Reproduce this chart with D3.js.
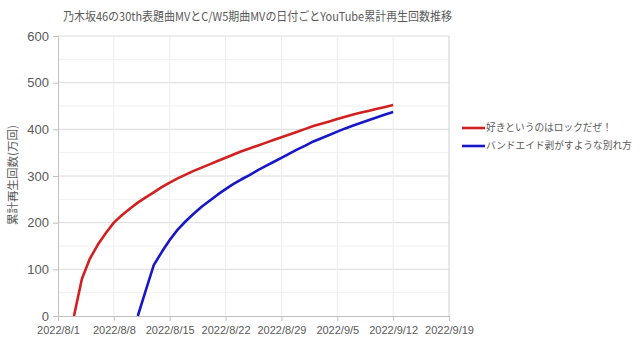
<!DOCTYPE html>
<html>
<head>
<meta charset="utf-8">
<script src="https://cdn.jsdelivr.net/npm/d3@7"></script>
<style>
  body { margin: 0; background: #fff; }
  svg { display: block; font-family: "Noto Sans CJK JP", "Noto Sans", sans-serif; }
</style>
</head>
<body>
<div id="my_dataviz"></div>
<script>
// data (万回)
var seriesNames = ["好きというのはロックだぜ！", "バンドエイド剥がすような別れ方"];
var redStart = "2022-08-03";
var redValues = [0, 80, 123, 153, 178, 200, 216, 230, 243, 254, 265, 276, 286, 295, 303, 311, 318,
  325, 332, 339, 346, 353, 359, 365, 371, 377, 383, 389, 395, 401, 407, 412, 417, 422, 427, 432,
  436, 440, 444, 448, 452];
var blueStart = "2022-08-11";
var blueValues = [0, 55, 109, 137, 163, 185, 203, 219, 234, 247, 260, 272, 283, 293, 302, 312, 321,
  330, 339, 348, 357, 365, 374, 381, 388, 395, 402, 408, 414, 420, 426, 432, 437];
var xTicks = ["2022-08-01", "2022-08-08", "2022-08-15", "2022-08-22", "2022-08-29", "2022-09-05", "2022-09-12", "2022-09-19"];
var yTicks = [0, 100, 200, 300, 400, 500, 600];
var colors = ["#d21f1f", "#1717c8"];

var parse = d3.utcParse("%Y-%m-%d");

function toPoints(start, values) {
  var s = parse(start);
  return values.map(function(v, i) { return {date: d3.utcDay.offset(s, i), value: v}; });
}
var series = [toPoints(redStart, redValues), toPoints(blueStart, blueValues)];

// set the dimensions and margins of the graph
var margin = {top: 36, right: 191, bottom: 35, left: 58},
    width = 640 - margin.left - margin.right,
    height = 351 - margin.top - margin.bottom;

var svg = d3.select("#my_dataviz")
  .append("svg")
    .attr("width", 640)
    .attr("height", 351);

var g = svg.append("g")
    .attr("transform", "translate(" + margin.left + "," + margin.top + ")");

var x = d3.scaleUtc()
  .domain([parse(xTicks[0]), parse(xTicks[xTicks.length - 1])])
  .range([0, width]);
var y = d3.scaleLinear()
  .domain([0, 600])
  .range([height, 0]);

// minor horizontal grid
g.selectAll("line.minor")
  .data(d3.range(50, 600, 100))
  .enter().append("line")
    .attr("x1", 0).attr("x2", width)
    .attr("y1", function(d) { return y(d); })
    .attr("y2", function(d) { return y(d); })
    .attr("stroke", "#f0f0f0");

// major horizontal grid
g.selectAll("line.major")
  .data(yTicks.slice(1))
  .enter().append("line")
    .attr("x1", 0).attr("x2", width)
    .attr("y1", function(d) { return y(d); })
    .attr("y2", function(d) { return y(d); })
    .attr("stroke", "#dcdcdc");

// vertical grid
g.selectAll("line.vgrid")
  .data(xTicks.slice(1))
  .enter().append("line")
    .attr("x1", function(d) { return x(parse(d)); })
    .attr("x2", function(d) { return x(parse(d)); })
    .attr("y1", 0).attr("y2", height)
    .attr("stroke", function(d, i) { return i == xTicks.length - 2 ? "#d0d0d0" : "#ececec"; });

// X axis
var xAxis = g.append("g")
  .attr("transform", "translate(0," + height + ")")
  .call(d3.axisBottom(x)
    .tickValues(xTicks.map(parse))
    .tickSize(5)
    .tickFormat(d3.utcFormat("%Y/%-m/%-d")));
xAxis.selectAll("text")
  .style("font", "11px 'Liberation Sans', sans-serif")
  .attr("fill", "#595959")
  .attr("dy", "0.9em");

// Y axis
var yAxis = g.append("g")
  .call(d3.axisLeft(y).tickValues(yTicks).tickSize(5).tickPadding(4));
yAxis.selectAll("text")
  .style("font", "13px 'Liberation Sans', sans-serif")
  .attr("fill", "#595959");

g.selectAll(".domain, .tick line").attr("stroke", "#c0c0c0");

// lines
var line = d3.line()
  .x(function(d) { return x(d.date); })
  .y(function(d) { return y(d.value); });

g.selectAll("path.series")
  .data(series)
  .enter().append("path")
    .attr("fill", "none")
    .attr("stroke", function(d, i) { return colors[i]; })
    .attr("stroke-width", 2.6)
    .attr("stroke-linejoin", "round")
    .attr("d", line);

// title
svg.append("text")
  .attr("x", 63)
  .attr("y", 21)
  .attr("textLength", 389)
  .attr("lengthAdjust", "spacingAndGlyphs")
  .style("font-size", "12px")
  .attr("fill", "#595959")
  .text("乃木坂46の30th表題曲MVとC/W5期曲MVの日付ごとYouTube累計再生回数推移");

// y label
svg.append("text")
  .attr("transform", "translate(17,175) rotate(-90)")
  .attr("text-anchor", "middle")
  .style("font-size", "11.5px")
  .attr("fill", "#595959")
  .text("累計再生回数(万回)");

// legend
var legend = svg.selectAll("g.legend")
  .data(seriesNames)
  .enter().append("g")
    .attr("transform", function(d, i) { return "translate(462," + (128 + i * 18) + ")"; });
legend.append("line")
  .attr("x1", 0).attr("x2", 23)
  .attr("stroke", function(d, i) { return colors[i]; })
  .attr("stroke-width", 2.6);
legend.append("text")
  .attr("x", 24)
  .attr("dy", "0.35em")
  .style("font-size", "9.7px")
  .attr("fill", "#595959")
  .text(function(d) { return d; });
</script>
</body>
</html>
